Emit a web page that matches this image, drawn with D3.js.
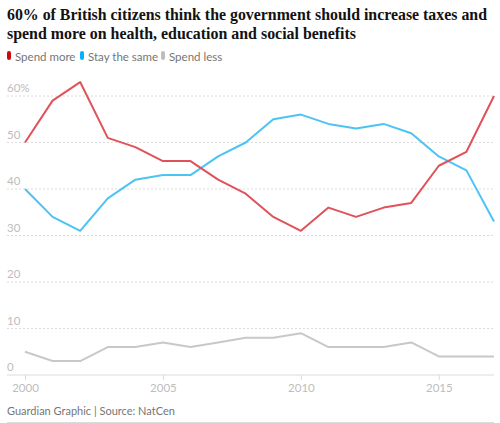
<!DOCTYPE html>
<html><head><meta charset="utf-8">
<script src="https://cdnjs.cloudflare.com/ajax/libs/d3/7.8.5/d3.min.js"></script>
<style>
body{margin:0;background:#fff;}
svg{display:block;}
</style></head>
<body><svg id="c" width="500" height="423"></svg>
<script>
const years = [2000,2001,2002,2003,2004,2005,2006,2007,2008,2009,2010,2011,2012,2013,2014,2015,2016,2017];
const spendMore = [50,59,63,51,49,46,46,42,39,34,31,36,34,36,37,45,48,60];
const staySame = [40,34,31,38,42,43,43,47,50,55,56,54,53,54,52,47,44,33];
const spendLess = [5,3,3,6,6,7,6,7,8,8,9,6,6,6,7,4,4,4];
const yTicks = [0,10,20,30,40,50,60];
const xTicks = [2000,2005,2010,2015];
const seriesNames = ["Spend more","Stay the same","Spend less"];
const lineColors = ["#e0525a","#4cc3f5","#c8c8c8"];
const keyColors = ["#cc0a11","#00b2ff","#bdbdbd"];
const titleLines = ["60% of British citizens think the government should increase taxes and","spend more on health, education and social benefits"];

const svg = d3.select("#c");
const x = d3.scaleLinear().domain([2000,2017]).range([25,494]);
const y = d3.scaleLinear().domain([0,60]).range([375,96]);

// title
const titleW = [480,349];
svg.append("g").selectAll("text").data(titleLines).join("text")
  .attr("x",7).attr("y",(d,i)=>20+i*19)
  .attr("font-family","'Liberation Serif', serif").attr("font-weight","bold")
  .attr("font-size",16.2).attr("fill","#121212")
  .attr("textLength",(d,i)=>titleW[i]).attr("lengthAdjust","spacingAndGlyphs")
  .text(d=>d);

// legend
const leg = svg.append("g");
const legX = [7,80,161];
seriesNames.forEach((n,i)=>{
  leg.append("rect").attr("x",legX[i]).attr("y",51).attr("width",4).attr("height",9).attr("rx",2).attr("fill",keyColors[i]);
  leg.append("text").attr("x",legX[i]+8).attr("y",61).attr("font-family","Lato, sans-serif")
    .attr("font-size",11.5).attr("fill","#767676").text(n);
});

// grid
const grid = svg.append("g");
grid.selectAll("line").data(yTicks.filter(d=>d>0)).join("line")
  .attr("x1",7).attr("x2",494).attr("y1",d=>y(d)).attr("y2",d=>y(d))
  .attr("stroke","#dcdcdc").attr("stroke-dasharray","2,2").attr("stroke-width",1);
svg.append("g").selectAll("text").data(yTicks).join("text")
  .attr("x",7).attr("y",d=>y(d)-4)
  .attr("font-family","Lato, sans-serif").attr("font-size",11.5).attr("fill","#bdbdbd")
  .text(d=>d===60?"60%":d);

// x axis
const xa = svg.append("g").attr("transform","translate(0,"+y(0)+")")
  .call(d3.axisBottom(x).tickValues(xTicks).tickFormat(d3.format("d")).tickSize(5).tickPadding(4));
xa.select(".domain").remove();
xa.append("line").attr("x1",7).attr("x2",494).attr("stroke","#dcdcdc");
xa.selectAll(".tick line").attr("stroke","#dcdcdc");
xa.selectAll(".tick text").attr("font-family","Lato, sans-serif").attr("font-size",11.5).attr("fill","#bdbdbd");

// lines
const line = d3.line().x((d,i)=>x(years[i])).y(d=>y(d));
[spendLess, staySame, spendMore].forEach((s,k)=>{
  const i = 2-k;
  svg.append("path").datum(s).attr("d",line).attr("fill","none")
    .attr("stroke",lineColors[i]).attr("stroke-width",2).attr("stroke-linejoin","round");
});

// source
svg.append("text").attr("x",7).attr("y",415).attr("font-family","Lato, sans-serif")
  .attr("font-size",11).attr("fill","#767676").text("Guardian Graphic | Source: NatCen");
svg.append("line").attr("x1",7).attr("x2",494).attr("y1",422.5).attr("y2",422.5).attr("stroke","#dcdcdc");
</script></body></html>
